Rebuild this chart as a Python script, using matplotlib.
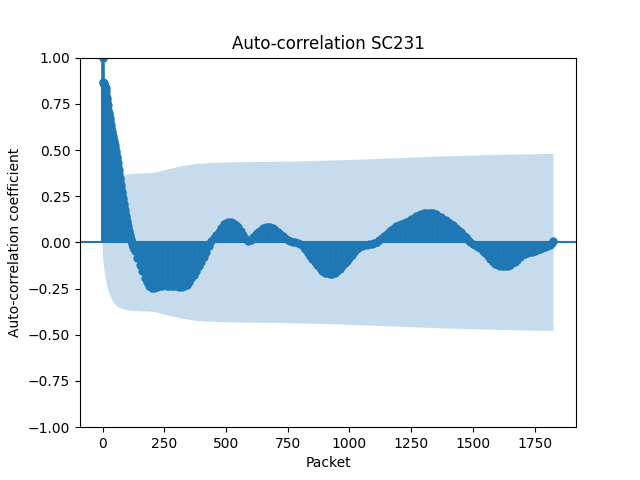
import matplotlib
matplotlib.use("Agg")
import matplotlib.pyplot as plt
import numpy as np

lags = [0, 1] + list(range(2, 131, 2)) + list(range(140, 1821, 10)) + [1826]

acf_values = [
    1.0, 0.866,
    # 2 .. 130 (every 2 lags)
    0.865, 0.860, 0.855, 0.848, 0.842, 0.834, 0.818, 0.798, 0.780, 0.765,
    0.742, 0.718, 0.702, 0.688, 0.672, 0.655, 0.636, 0.618, 0.602, 0.590,
    0.577, 0.564, 0.551, 0.538, 0.525, 0.510, 0.495, 0.478, 0.462, 0.445,
    0.428, 0.410, 0.390, 0.370, 0.350, 0.330, 0.312, 0.293, 0.274, 0.255,
    0.238, 0.222, 0.206, 0.190, 0.175, 0.160, 0.144, 0.129, 0.114, 0.100,
    0.088, 0.075, 0.063, 0.051, 0.040, 0.029, 0.019, 0.009, 0.000, -0.010,
    -0.017, -0.024, -0.031, -0.038, -0.045,
    # 140 .. 200
    -0.085, -0.12, -0.155, -0.19, -0.215, -0.235, -0.246,
    # 210 .. 400
    -0.248, -0.243, -0.237, -0.234, -0.233, -0.234, -0.236, -0.236, -0.237, -0.238,
    -0.241, -0.242, -0.238, -0.228, -0.212, -0.195, -0.178, -0.155, -0.13, -0.107,
    # 410 .. 600
    -0.08, -0.052, -0.022, 0.005, 0.025, 0.042, 0.058, 0.08, 0.097, 0.105,
    0.108, 0.108, 0.105, 0.096, 0.082, 0.062, 0.04, 0.018, 0.008, 0.015,
    # 610 .. 800
    0.03, 0.043, 0.055, 0.066, 0.076, 0.082, 0.085, 0.083, 0.076, 0.066,
    0.055, 0.045, 0.035, 0.024, 0.015, 0.007, 0.002, 0.0, -0.003, -0.008,
    # 810 .. 1000
    -0.02, -0.035, -0.055, -0.072, -0.088, -0.105, -0.12, -0.138, -0.155, -0.164,
    -0.168, -0.17, -0.17, -0.163, -0.153, -0.142, -0.128, -0.114, -0.099, -0.085,
    # 1010 .. 1200
    -0.068, -0.05, -0.035, -0.025, -0.018, -0.015, -0.013, -0.01, -0.007, -0.002,
    0.004, 0.012, 0.022, 0.035, 0.048, 0.058, 0.068, 0.078, 0.087, 0.094,
    # 1210 .. 1400
    0.1, 0.106, 0.112, 0.118, 0.125, 0.133, 0.141, 0.148, 0.154, 0.158,
    0.161, 0.161, 0.16, 0.157, 0.152, 0.145, 0.137, 0.128, 0.12, 0.112,
    # 1410 .. 1600
    0.102, 0.092, 0.08, 0.067, 0.055, 0.042, 0.028, 0.013, 0.0, -0.008,
    -0.016, -0.025, -0.033, -0.045, -0.06, -0.076, -0.091, -0.104, -0.115, -0.123,
    # 1610 .. 1800
    -0.128, -0.13, -0.129, -0.126, -0.12, -0.113, -0.104, -0.093, -0.08, -0.07,
    -0.063, -0.058, -0.054, -0.051, -0.048, -0.043, -0.038, -0.032, -0.026, -0.02,
    # 1810, 1820, 1826
    -0.012, -0.002, 0.005,
]

# half width of the confidence band
band_lags = [1, 2, 4, 7, 14, 20, 27, 37, 47, 60, 75, 95, 115, 210, 312, 380,
             446, 555, 760, 1000, 1081, 1121, 1250, 1365, 1500, 1650, 1826]
band_width = [0.046, 0.073, 0.11, 0.15, 0.203, 0.24, 0.275, 0.305, 0.33, 0.347,
              0.357, 0.365, 0.37, 0.376, 0.41, 0.425, 0.43, 0.434, 0.437, 0.446,
              0.45, 0.452, 0.459, 0.465, 0.47, 0.475, 0.479]

fig, ax = plt.subplots(figsize=(6.4, 4.8), dpi=100)

bw = np.array(band_width)
ax.fill_between(band_lags, -bw, bw, alpha=0.25, linewidth=0)
ax.vlines(lags, [0], acf_values, linewidth=2.6)
ax.axhline(0)
ax.plot(lags, acf_values, marker='o', markersize=5, linestyle='None')
ax.margins(0.05)
ax.set_ylim(-1, 1)

ax.set_title('Auto-correlation SC231')
ax.set_xlabel('Packet')
ax.set_ylabel('Auto-correlation coefficient')

plt.savefig('out.png')
